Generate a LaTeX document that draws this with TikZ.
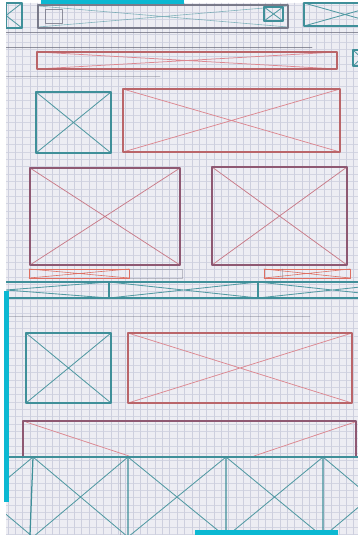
\documentclass[tikz,border=0pt]{standalone}
\definecolor{paper}{HTML}{EDEDF3}
\definecolor{gridc}{HTML}{CDCFDE}
\definecolor{tealp}{HTML}{3F8F99}
\definecolor{pinkp}{HTML}{DC8790}
\definecolor{mauve}{HTML}{8E5872}
\definecolor{redp}{HTML}{DE6F62}
\definecolor{greyp}{HTML}{6F7080}
\definecolor{cyanbar}{HTML}{0BB8D2}
\newcommand\wfbox[6]{\draw[#2] (#3,#4) -- (#5,#6) (#3,#6) -- (#5,#4); \draw[#1] (#3,#4) rectangle (#5,#6);}
\tikzset{
  gridline/.style={draw=gridc, line width=0.45},
  tealb/.style={draw=tealp, line width=1.25},
  tealx/.style={draw=tealp!90, line width=0.85},
  pinkx/.style={draw=pinkp, line width=0.75},
  mauveb/.style={draw=mauve, line width=1.1},
  pinkb/.style={draw=redp!55!mauve, line width=1.1},
  redb/.style={draw=redp, line width=0.9},
  pencil/.style={draw=greyp, line width=0.7, opacity=0.75},
  faint/.style={draw=greyp, line width=0.6, opacity=0.4},
  cbar/.style={fill=cyanbar}
}
\begin{document}
\begin{tikzpicture}[x=1pt,y=-1pt,line cap=round,line join=round]
\useasboundingbox (0,0) rectangle (358,535);
\fill[white] (0,0) rectangle (358,535);
\fill[paper] (6,3) rectangle (358,535);
\begin{scope}
\clip (6,3) rectangle (358,535);
\foreach \i in {0,...,48} \draw[gridline] ({8+7.35*\i},3) -- ({8+7.35*\i},535);
\foreach \j in {0,...,73} \draw[gridline,opacity=0.8] (6,{5+7.35*\j}) -- (358,{5+7.35*\j});
% pencil guide lines
\draw[pencil] (6,32) -- (358,32);
\draw[pencil] (6,47) -- (312,47);
\draw[faint] (6,76) -- (160,76);
\draw[faint] (6,316) -- (310,316);
% top row
\draw[tealx] (-10,3) -- (22,28) (-10,28) -- (22,3);
\draw[tealb] (6,3) rectangle (22,28);
\draw[faint,draw=tealp,opacity=0.6] (38,6) -- (288,27) (38,27) -- (288,6);
\draw[pencil,line width=1.1,opacity=0.9] (38,5) rectangle (288,28);
\draw[pencil,line width=1.0] (45,10) rectangle (62,24);
\wfbox{tealb}{tealx}{264}{7}{283}{21}
\wfbox{tealb}{tealx}{304}{3}{386}{26}
% row 2
\wfbox{pinkb}{pinkx}{37}{52}{337}{69}
\wfbox{tealb}{tealx}{353}{50}{370}{66}
% row 3
\wfbox{tealb}{tealx}{36}{92}{111}{153}
\wfbox{pinkb}{pinkx}{123}{89}{340}{152}
% row 4
\wfbox{mauveb}{pinkx,draw=pinkp!75!mauve}{30}{168}{180}{265}
\wfbox{mauveb}{pinkx,draw=pinkp!75!mauve}{212}{167}{347}{265}
% row 5
\draw[faint] (129,269) rectangle (182,278);
\wfbox{redb}{redb,line width=0.6}{29}{269}{129}{278}
\wfbox{redb}{redb,line width=0.6}{264}{269}{350}{278}
\draw[faint] (282,269) -- (282,278);
% row 6 band
\draw[tealx] (-97,282) -- (109,298) (-97,298) -- (109,282);
\draw[tealx] (109,282) -- (258,298) (109,298) -- (258,282);
\draw[tealx] (258,282) -- (407,298) (258,298) -- (407,282);
\draw[tealb] (6,282) -- (358,282) (6,298) -- (358,298);
\draw[tealb] (109,282) -- (109,298) (258,282) -- (258,298);
% row 7
\wfbox{tealb}{tealx}{26}{333}{111}{403}
\wfbox{pinkb}{pinkx}{128}{333}{352}{403}
% row 8
\draw[pinkx] (26,422) -- (129,456) (355,422) -- (254,456);
\draw[mauveb] (23,457) -- (23,421) -- (356,421) -- (356,457);
% truss
\draw[faint] (120,457) -- (120,535);
\draw[tealx] (-62,457) -- (33,537) (-62,537) -- (33,457);
\draw[tealx] (33,457) -- (128,537) (33,537) -- (128,457);
\draw[tealx] (128,457) -- (226,537) (128,537) -- (226,457);
\draw[tealx] (226,457) -- (323,537) (226,537) -- (323,457);
\draw[tealx] (323,457) -- (418,537) (323,537) -- (418,457);
\draw[tealb] (6,457) -- (358,457);
\draw[tealb] (33,457) -- (30,535) (128,457) -- (128,535) (226,457) -- (226,535) (323,457) -- (323,535);
\end{scope}
% cyan bars
\fill[cbar] (41,0) rectangle (184,4);
\fill[cbar] (4,291) rectangle (9,502);
\fill[cbar] (195,530) rectangle (338,535);
\end{tikzpicture}
\end{document}
